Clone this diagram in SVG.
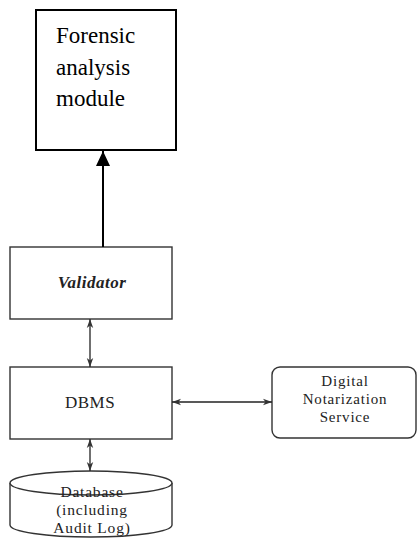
<svg xmlns="http://www.w3.org/2000/svg" width="417" height="540" viewBox="0 0 417 540">
<defs>
<style>
.box{fill:#fff;stroke:#333;stroke-width:1.4}
.lbl{font-family:"Liberation Serif","Times New Roman",serif;fill:#222;text-anchor:middle}
.big{font-family:"Liberation Serif","Times New Roman",serif;fill:#000}
.conn{stroke:#222;stroke-width:1.3;fill:none}
</style>
<marker id="barb" markerWidth="10" markerHeight="8" refX="9" refY="4" orient="auto-start-reverse" markerUnits="userSpaceOnUse">
<path d="M0,0.8 L9,4 L0,7.2 L2.5,4 Z" fill="#333"/>
</marker>
<marker id="tri" markerWidth="16" markerHeight="16" refX="15" refY="7" orient="auto" markerUnits="userSpaceOnUse">
<path d="M0,0 L15,7 L0,14 Z" fill="#000"/>
</marker>
</defs>
<rect width="417" height="540" fill="#fff"/>
<g id="forensic">
<rect x="36" y="10" width="140" height="140" fill="#fff" stroke="#000" stroke-width="2"/>
<text class="big" font-size="23"><tspan x="56" y="43">Forensic</tspan><tspan x="56" y="74.5">analysis</tspan><tspan x="56" y="106">module</tspan></text>
</g>
<g id="validator">
<rect class="box" x="10" y="247" width="162" height="72"/>
<text class="lbl" x="92" y="288" font-size="17" font-style="italic" font-weight="bold" letter-spacing="0.5">Validator</text>
</g>
<g id="dbms">
<rect class="box" x="10" y="367" width="162" height="72"/>
<text class="lbl" x="90" y="408" font-size="17" letter-spacing="0.5">DBMS</text>
</g>
<g id="dns">
<rect class="box" x="272" y="367" width="144" height="71" rx="8" ry="8"/>
<text class="lbl" font-size="15" letter-spacing="0.8"><tspan x="345" y="386">Digital</tspan><tspan x="345" y="404">Notarization</tspan><tspan x="345" y="422">Service</tspan></text>
</g>
<g id="database">
<path d="M10,483 L10,525 A81,12 0 0 0 172,525 L172,483" fill="#fff" stroke="#333" stroke-width="1.4"/>
<ellipse cx="91" cy="483" rx="81" ry="12" fill="#fff" stroke="#333" stroke-width="1.4"/>
<text class="lbl" font-size="15.5" letter-spacing="0.8"><tspan x="92" y="497">Database</tspan><tspan x="92" y="515">(including</tspan><tspan x="92" y="533">Audit Log)</tspan></text>
</g>
<g id="connectors">
<line x1="103" y1="247" x2="103" y2="151" stroke="#000" stroke-width="2" marker-end="url(#tri)"/>
<line class="conn" x1="90" y1="319" x2="90" y2="367" marker-start="url(#barb)" marker-end="url(#barb)"/>
<line class="conn" x1="172" y1="402" x2="272" y2="402" marker-start="url(#barb)" marker-end="url(#barb)"/>
<line class="conn" x1="90" y1="439" x2="90" y2="471" marker-start="url(#barb)" marker-end="url(#barb)"/>
</g>
</svg>
